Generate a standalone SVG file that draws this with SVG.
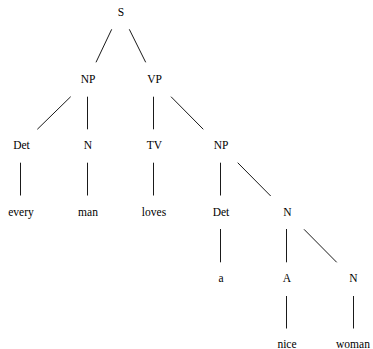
<svg xmlns="http://www.w3.org/2000/svg" width="373" height="349" viewBox="0 0 373 349">
  <style>
    text { font-family: "Liberation Serif", "Times New Roman", serif; font-size: 11.5px; fill: #000; text-anchor: middle; }
    .edge { stroke: #1a1a1a; stroke-width: 1; fill: none; }
  </style>
  <rect width="373" height="349" fill="#fff"/>

  <g id="edges">
    <line class="edge" x1="111.7" y1="29.3" x2="96" y2="62.3"/>
    <line class="edge" x1="129.3" y1="29.3" x2="145.7" y2="62.3"/>
    <line class="edge" x1="70.7" y1="96.7" x2="37.3" y2="129.3"/>
    <line class="edge" x1="87.5" y1="96.7" x2="87.5" y2="129.3"/>
    <line class="edge" x1="153.5" y1="96.7" x2="153.5" y2="129.3"/>
    <line class="edge" x1="171" y1="96.7" x2="203.3" y2="129.3"/>
    <line class="edge" x1="20.5" y1="162.7" x2="20.5" y2="195.5"/>
    <line class="edge" x1="87.5" y1="162.7" x2="87.5" y2="195.5"/>
    <line class="edge" x1="153.5" y1="162.7" x2="153.5" y2="195.5"/>
    <line class="edge" x1="220.5" y1="162.7" x2="220.5" y2="195.5"/>
    <line class="edge" x1="237.7" y1="162.7" x2="270.7" y2="196"/>
    <line class="edge" x1="220.5" y1="229" x2="220.5" y2="262.3"/>
    <line class="edge" x1="286.5" y1="229" x2="286.5" y2="262.3"/>
    <line class="edge" x1="304" y1="229.3" x2="336.7" y2="262.3"/>
    <line class="edge" x1="286.5" y1="296" x2="286.5" y2="328.5"/>
    <line class="edge" x1="353.5" y1="296" x2="353.5" y2="328.5"/>
  </g>

  <g id="n-S"><text x="121" y="16">S</text></g>
  <g id="n-NP1"><text x="88" y="83">NP</text></g>
  <g id="n-VP"><text x="154.5" y="83">VP</text></g>
  <g id="n-Det1"><text x="21.5" y="149">Det</text></g>
  <g id="n-N1"><text x="88" y="149">N</text></g>
  <g id="n-TV"><text x="154.5" y="149">TV</text></g>
  <g id="n-NP2"><text x="221" y="149">NP</text></g>
  <g id="n-every"><text x="21" y="215.5">every</text></g>
  <g id="n-man"><text x="88" y="215.5">man</text></g>
  <g id="n-loves"><text x="154" y="215.5">loves</text></g>
  <g id="n-Det2"><text x="221" y="215.5">Det</text></g>
  <g id="n-N2"><text x="287.5" y="215.5">N</text></g>
  <g id="n-a"><text x="221" y="282">a</text></g>
  <g id="n-A"><text x="287" y="282">A</text></g>
  <g id="n-N3"><text x="353.5" y="282">N</text></g>
  <g id="n-nice"><text x="287" y="348">nice</text></g>
  <g id="n-woman"><text x="353" y="348">woman</text></g>
</svg>
